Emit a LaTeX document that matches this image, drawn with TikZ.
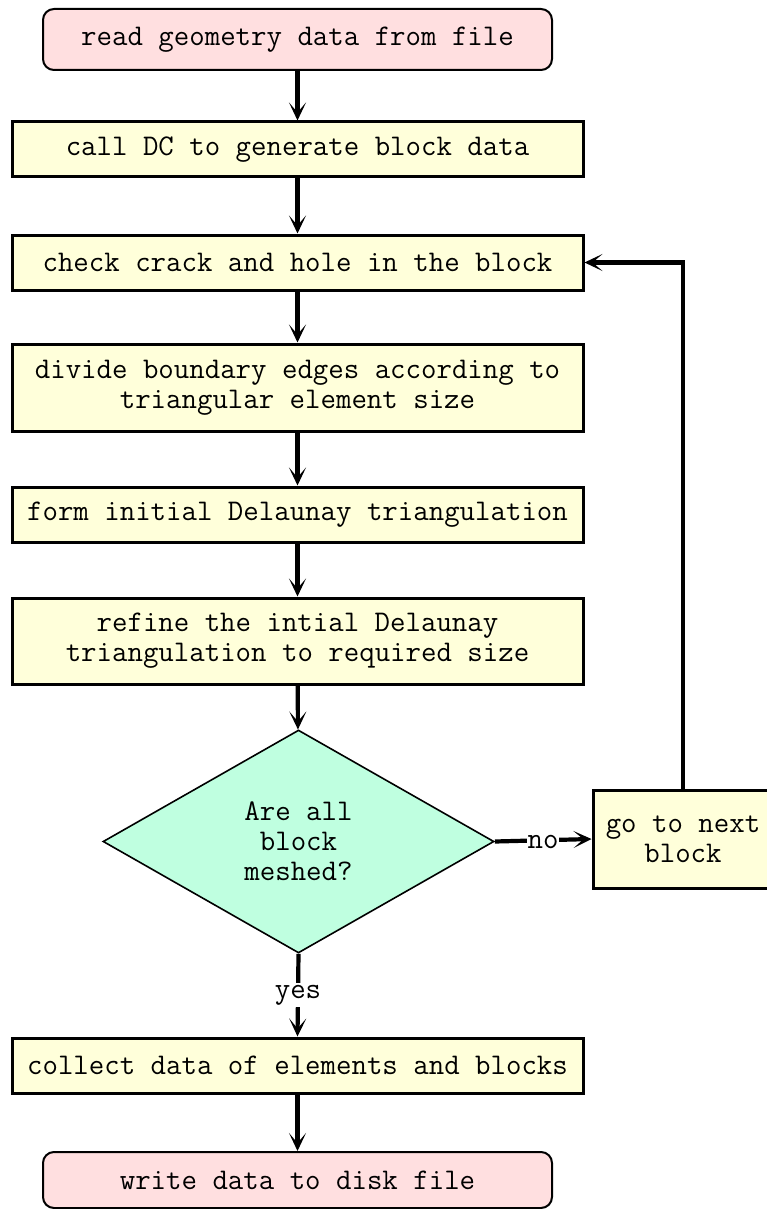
\documentclass[tikz,border=0pt]{standalone}
\usetikzlibrary{shapes.geometric,arrows.meta,positioning,calc}
\definecolor{pinkfill}{HTML}{FFDFE0}
\definecolor{yellowfill}{HTML}{FFFFDA}
\definecolor{mintfill}{HTML}{BFFFE0}
\begin{document}
\begin{tikzpicture}[x=1pt,y=-1pt,
  every node/.style={font=\ttfamily\fontsize{30}{32}\selectfont, align=center, inner sep=0pt},
  termbox/.style={draw, line width=2pt, rounded corners=11pt, fill=pinkfill, minimum width=509pt},
  procbox/.style={draw, line width=3pt, fill=yellowfill, minimum width=571pt},
  decbox/.style={draw, line width=1.6pt, diamond, fill=mintfill, minimum width=391pt, minimum height=223pt},
  flow/.style={line width=4.2pt, -{Stealth[length=18pt,width=17pt,inset=10pt]}},
  flowlabel/.style={fill=white, inner sep=2pt},
  nolabel/.style={fill=white, inner sep=0.5pt, yshift=-2pt}
]
\useasboundingbox (0,0) rectangle (766,1209);
\node[termbox, minimum height=61pt] (b1) at (297.5,39.5) {read geometry data from file};
\node[procbox, minimum height=55pt] (b2) at (297.5,149.5) {call DC to generate block data};
\node[procbox, minimum height=55pt] (b3) at (297.5,262.5) {check crack and hole in the block};
\node[procbox, minimum height=87pt] (b4) at (297.5,387.5) {divide boundary edges according to\\[-2pt]triangular element size};
\node[procbox, minimum height=55pt] (b5) at (297.5,514.5) {form initial Delaunay triangulation};
\node[procbox, minimum height=86pt] (b6) at (297.5,641) {refine the intial Delaunay\\[-2pt]triangulation to required size};
\node[decbox] (d) at (298.5,841.5) {Are all\\[-2pt]block\\[-2pt]meshed?};
\node[draw, line width=3pt, fill=yellowfill, minimum width=180pt, minimum height=98pt] (b9) at (683,839) {go to next\\[-2pt]block};
\node[procbox, minimum height=55pt] (b7) at (297.5,1065.5) {collect data of elements and blocks};
\node[termbox, minimum height=56pt] (b8) at (297.5,1180) {write data to disk file};

\draw[flow] (b1) -- (b2);
\draw[flow] (b2) -- (b3);
\draw[flow] (b3) -- (b4);
\draw[flow] (b4) -- (b5);
\draw[flow] (b5) -- (b6);
\draw[flow] (b6) -- (d);
\draw[flow] (d.south) -- node[flowlabel] {yes} (b7.north);
\draw[flow] (d.east) -- node[nolabel] {no} (b9.west);
\draw[flow] (b9.north) |- (b3.east);
\draw[flow] (b7) -- (b8);
\end{tikzpicture}
\end{document}
